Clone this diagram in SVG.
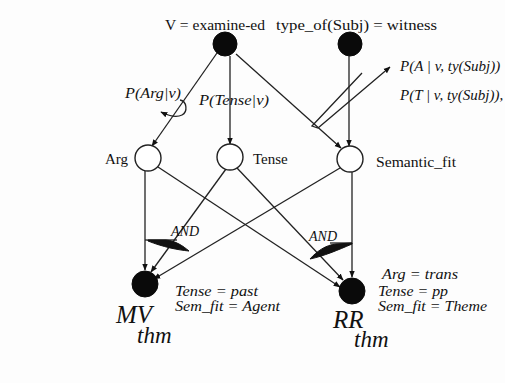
<svg xmlns="http://www.w3.org/2000/svg" width="505" height="383" viewBox="0 0 505 383">
<defs>
<marker id="ah" viewBox="0 0 10 10" refX="9" refY="5" markerWidth="7" markerHeight="7" orient="auto" markerUnits="userSpaceOnUse">
<path d="M0,1 L10,5 L0,9 Z" fill="#111"/>
</marker>
<style>
.edge{stroke:#222;stroke-width:1.3;fill:none}
.arr{marker-end:url(#ah)}
.black{fill:#0a0a0a;stroke:#0a0a0a}
.open{fill:#fff;stroke:#222;stroke-width:1.4}
.up{font-family:"Liberation Serif","Times New Roman",serif;fill:#111}
.it{font-family:"Liberation Serif","Times New Roman",serif;font-style:italic;fill:#111}
.wedge{fill:#111;stroke:#111;stroke-width:1}
</style>
</defs>
<rect width="505" height="383" fill="#fdfdfd"/>

<g id="connectors">
<line class="edge arr" x1="217" y1="53" x2="152" y2="146"/>
<line class="edge arr" x1="230" y1="56" x2="230" y2="144"/>
<line class="edge arr" x1="236" y1="54" x2="341" y2="148"/>
<line class="edge arr" x1="349" y1="56" x2="349" y2="146"/>
<path class="edge arr" d="M362,73 L312,126 L318,128 L390,67"/>
<path class="edge arr" d="M180,100 C187,101 188,112 182,115 C176,118 169,116 161,112"/>
<line class="edge arr" x1="145" y1="171" x2="145" y2="270"/>
<line class="edge arr" x1="158" y1="167" x2="340" y2="287"/>
<line class="edge arr" x1="226" y1="169" x2="151" y2="272"/>
<line class="edge arr" x1="237" y1="168" x2="343" y2="280"/>
<line class="edge arr" x1="340" y1="168" x2="154" y2="279"/>
<line class="edge arr" x1="352" y1="172" x2="352" y2="277"/>
<line class="edge" x1="145" y1="240" x2="177" y2="240"/>
<path class="wedge" d="M148,240 L166,240 C176,241 183,246 189,251 C178,250 163,247 148,241 Z"/>
<line class="edge" x1="330" y1="243" x2="352" y2="243"/>
<path class="wedge" d="M352,243 L336,244 C326,245 317,251 310,259 C324,256 338,250 352,244 Z"/>
</g>

<g id="v_node"><circle class="black" cx="225" cy="44" r="12"/><text class="up" x="165" y="30" font-size="15" textLength="100" lengthAdjust="spacingAndGlyphs">V = examine-ed</text></g>
<g id="subj_node"><circle class="black" cx="350" cy="44" r="12"/><text class="up" x="276" y="30" font-size="15" textLength="161" lengthAdjust="spacingAndGlyphs">type_of(Subj) = witness</text></g>
<g id="prob_labels">
<text class="it" x="400" y="71" font-size="15">P(A | v, ty(Subj))</text>
<text class="it" x="400" y="100" font-size="15">P(T | v, ty(Subj)),</text>
<text class="it" x="125" y="98" font-size="14" textLength="56" lengthAdjust="spacingAndGlyphs">P(Arg|v)</text>
<text class="it" x="199" y="105" font-size="14" textLength="70" lengthAdjust="spacingAndGlyphs">P(Tense|v)</text>
</g>
<g id="arg_node"><circle class="open" cx="148" cy="158" r="13"/><text class="up" x="105" y="164" font-size="15">Arg</text></g>
<g id="tense_node"><circle class="open" cx="230" cy="157" r="13"/><text class="up" x="253" y="164" font-size="15">Tense</text></g>
<g id="semfit_node"><circle class="open" cx="350" cy="159" r="13"/><text class="up" x="376" y="167" font-size="15" textLength="80" lengthAdjust="spacingAndGlyphs">Semantic_fit</text></g>
<g id="and_labels">
<text class="it" x="171" y="236" font-size="14">AND</text>
<text class="it" x="309" y="241" font-size="14">AND</text>
</g>
<g id="mv_node"><circle class="black" cx="145" cy="284" r="13"/>
<text class="it" x="175" y="296" font-size="15" textLength="83" lengthAdjust="spacingAndGlyphs">Tense = past</text>
<text class="it" x="175" y="311" font-size="15" textLength="105" lengthAdjust="spacingAndGlyphs">Sem_fit = Agent</text>
<text class="it" x="116" y="323" font-size="25">MV</text>
<text class="it" x="137" y="343" font-size="23">thm</text></g>
<g id="rr_node"><circle class="black" cx="352" cy="291" r="13"/>
<text class="it" x="382" y="279" font-size="15" textLength="76" lengthAdjust="spacingAndGlyphs">Arg = trans</text>
<text class="it" x="378" y="296" font-size="15" textLength="70" lengthAdjust="spacingAndGlyphs">Tense = pp</text>
<text class="it" x="378" y="311" font-size="15" textLength="109" lengthAdjust="spacingAndGlyphs">Sem_fit = Theme</text>
<text class="it" x="333" y="328" font-size="25">RR</text>
<text class="it" x="354" y="347" font-size="23">thm</text></g>
</svg>
